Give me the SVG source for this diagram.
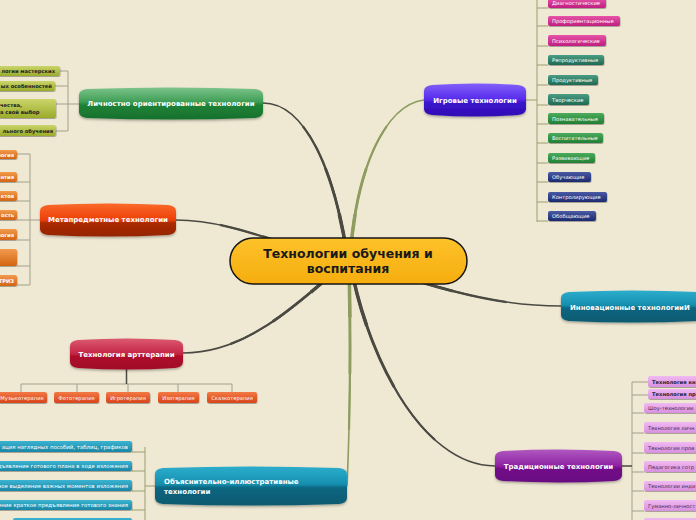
<svg xmlns="http://www.w3.org/2000/svg" width="696" height="520" viewBox="0 0 696 520">
<defs>
<style>
.bg{fill:#efe8d3}
.k{stroke:#4a4a42;fill:none;stroke-linecap:butt}
.g{stroke:#8e9c60;fill:none;stroke-linecap:butt}
.w1{stroke-width:1.6}
.w2{stroke-width:2.2;stroke-dasharray:0 25 75 0}
.w3{stroke-width:2.8;stroke-dasharray:0 50 50 0}
.w4{stroke-width:3.5;stroke-dasharray:0 75 25 0}
.br{stroke:#a3a08c;stroke-width:1;fill:none}
.brG{stroke:#98a070;stroke-width:1;fill:none}
.nt{font-family:"DejaVu Sans",Verdana,sans-serif;font-weight:bold;font-size:7px;fill:#fff}
.ct{font-family:"DejaVu Sans",Verdana,sans-serif;font-size:5.2px;fill:#fff}
.ctl{font-family:"DejaVu Sans",Verdana,sans-serif;font-size:5.4px;fill:#fff}
.cb{font-family:"DejaVu Sans",Verdana,sans-serif;font-size:5.2px;font-weight:bold}
.ctd{font-family:"DejaVu Sans",Verdana,sans-serif;font-size:5.2px;fill:#4a2a50}
</style>
<filter id="sh" x="-10%" y="-20%" width="120%" height="160%"><feDropShadow dx="0" dy="1.5" stdDeviation="1" flood-color="#000" flood-opacity="0.3"/></filter>
<filter id="shs" x="-10%" y="-30%" width="120%" height="180%"><feDropShadow dx="0.5" dy="1" stdDeviation="0.5" flood-color="#000" flood-opacity="0.3"/></filter>
<linearGradient id="gCenter" x1="0" y1="0" x2="0" y2="1"><stop offset="0" stop-color="#fdc22a"/><stop offset="1" stop-color="#f6ad0e"/></linearGradient>
<linearGradient id="gGreen" x1="0" y1="0" x2="0" y2="1"><stop offset="0" stop-color="#7cc48a"/><stop offset="0.45" stop-color="#3f9e55"/><stop offset="0.55" stop-color="#1f8236"/><stop offset="1" stop-color="#17702c"/></linearGradient>
<linearGradient id="gOrange" x1="0" y1="0" x2="0" y2="1"><stop offset="0" stop-color="#fb6a2a"/><stop offset="0.5" stop-color="#ec3f08"/><stop offset="0.6" stop-color="#a82a02"/><stop offset="1" stop-color="#962400"/></linearGradient>
<linearGradient id="gCrimson" x1="0" y1="0" x2="0" y2="1"><stop offset="0" stop-color="#dc5a70"/><stop offset="0.5" stop-color="#c42444"/><stop offset="0.58" stop-color="#ae0e2c"/><stop offset="1" stop-color="#a00a26"/></linearGradient>
<linearGradient id="gTeal" x1="0" y1="0" x2="0" y2="1"><stop offset="0" stop-color="#2cadcc"/><stop offset="0.45" stop-color="#1690b0"/><stop offset="0.55" stop-color="#0d6680"/><stop offset="1" stop-color="#0a5a70"/></linearGradient>
<linearGradient id="gBlue" x1="0" y1="0" x2="0" y2="1"><stop offset="0" stop-color="#8260fa"/><stop offset="0.5" stop-color="#5528ea"/><stop offset="0.58" stop-color="#3a14cc"/><stop offset="1" stop-color="#300eb4"/></linearGradient>
<linearGradient id="gPurple" x1="0" y1="0" x2="0" y2="1"><stop offset="0" stop-color="#b058c0"/><stop offset="0.5" stop-color="#8e22a4"/><stop offset="0.58" stop-color="#720c88"/><stop offset="1" stop-color="#680880"/></linearGradient>
<linearGradient id="cOlive" x1="0" y1="0" x2="0" y2="1"><stop offset="0" stop-color="#cbd56a"/><stop offset="1" stop-color="#9aab2a"/></linearGradient>
<linearGradient id="cOrange" x1="0" y1="0" x2="0" y2="1"><stop offset="0" stop-color="#f29a4c"/><stop offset="1" stop-color="#d26514"/></linearGradient>
<linearGradient id="cRed" x1="0" y1="0" x2="0" y2="1"><stop offset="0" stop-color="#f27a44"/><stop offset="1" stop-color="#d8441a"/></linearGradient>
<linearGradient id="cTeal" x1="0" y1="0" x2="0" y2="1"><stop offset="0" stop-color="#3ab4d2"/><stop offset="1" stop-color="#1a86a6"/></linearGradient>
<linearGradient id="cPink" x1="0" y1="0" x2="0" y2="1"><stop offset="0" stop-color="#e654a8"/><stop offset="1" stop-color="#c01e80"/></linearGradient>
<linearGradient id="cTG" x1="0" y1="0" x2="0" y2="1"><stop offset="0" stop-color="#4a9c84"/><stop offset="1" stop-color="#1e6a52"/></linearGradient>
<linearGradient id="cGr" x1="0" y1="0" x2="0" y2="1"><stop offset="0" stop-color="#4cac5c"/><stop offset="1" stop-color="#1f7f34"/></linearGradient>
<linearGradient id="cNavy" x1="0" y1="0" x2="0" y2="1"><stop offset="0" stop-color="#4a5aa4"/><stop offset="1" stop-color="#1c2a70"/></linearGradient>
<linearGradient id="cLilac" x1="0" y1="0" x2="0" y2="1"><stop offset="0" stop-color="#f0baf2"/><stop offset="1" stop-color="#d890de"/></linearGradient>
<path id="cL" pathLength="100" d="M263,103 C305,103 335,170 348,261"/>
<path id="cI" pathLength="100" d="M424,100 C385,105 355,170 350,261"/>
<path id="cM" pathLength="100" d="M176,220 C235,220 290,250 348,261"/>
<path id="cA" pathLength="100" d="M183,353 C250,353 300,300 348,261"/>
<path id="cO" pathLength="100" d="M347,486 C350,420 351,350 349,261"/>
<path id="cT" pathLength="100" d="M495,466 C420,466 365,350 350,261"/>
<path id="cN" pathLength="100" d="M561,306 C480,306 420,280 348,261"/>
</defs>
<rect class="bg" x="0" y="0" width="696" height="520"/>

<g id="connectors">
<use href="#cL" class="k w1"/><use href="#cL" class="k w2"/><use href="#cL" class="k w3"/><use href="#cL" class="k w4"/>
<use href="#cI" class="g w1"/><use href="#cI" class="g w2"/><use href="#cI" class="g w3"/><use href="#cI" class="g w4"/>
<use href="#cM" class="k w1"/><use href="#cM" class="k w2"/><use href="#cM" class="k w3"/><use href="#cM" class="k w4"/>
<use href="#cA" class="k w1"/><use href="#cA" class="k w2"/><use href="#cA" class="k w3"/><use href="#cA" class="k w4"/>
<use href="#cO" class="g w1"/><use href="#cO" class="g w2"/><use href="#cO" class="g w3"/><use href="#cO" class="g w4"/>
<use href="#cT" class="k w1"/><use href="#cT" class="k w2"/><use href="#cT" class="k w3"/><use href="#cT" class="k w4"/>
<use href="#cN" class="k w1"/><use href="#cN" class="k w2"/><use href="#cN" class="k w3"/><use href="#cN" class="k w4"/>
<path class="br" d="M79,104 H68 M68,71 V131 M60,71 H68 M55,86 H68 M56,104 H68 M56,131 H68"/>
<path class="br" d="M40,220 H30 M30,154 V285 M17,154 H30 M17,182 H30 M17,201 H30 M17,220 H30 M17,240 H30 M17,266 H30 M17,285 H30"/>
<path class="br" d="M21,384 H232 M21,384 V392 M77,384 V392 M128,384 V392 M178,384 V392 M232,384 V392"/>
<path d="M126.5,368 V384" stroke="#4a4a42" stroke-width="1.5"/>
<path class="brG" d="M155,486 H145 M145,447 V520 M132,452 H145 M132,471 H145 M132,491 H145 M132,510 H145"/>
<path class="brG" d="M526,100 H537 M537,0 V222 M537,8 H548 M537,26 H548 M537,46 H548 M537,65 H548 M537,85 H548 M537,105 H548 M537,124 H548 M537,143 H548 M537,163 H548 M537,182 H548 M537,202 H548 M537,221 H548"/>
<path class="br" d="M632,382 V520 M632,382 H648 M632,395 H648 M632,413 H644 M632,433 H644 M632,453 H644 M632,472 H644 M632,491 H644 M632,511 H644"/>
<path d="M622,466 H632" stroke="#4a4a42" stroke-width="1.5"/>
</g>

<g id="center">
<rect x="230" y="238" width="237" height="46" rx="23" fill="url(#gCenter)" stroke="#151515" stroke-width="1.5"/>
<text x="348" y="258" text-anchor="middle" font-family="'DejaVu Sans',Verdana,sans-serif" font-weight="bold" font-size="12.5" fill="#1a1a1a">Технологии обучения и</text>
<text x="348" y="273" text-anchor="middle" font-family="'DejaVu Sans',Verdana,sans-serif" font-weight="bold" font-size="12.5" fill="#1a1a1a">воспитания</text>
</g>

<g id="lichnostno">
<path filter="url(#sh)" fill="url(#gGreen)" d="M79,95 Q79,90 87,89 Q171,86 255,89 Q263,90 263,95 L263,112 Q263,117 255,118 Q171,121 87,118 Q79,117 79,112 Z"/>
<text class="nt" x="171" y="106" text-anchor="middle">Личностно ориентированные технологии</text>
</g>
<g id="lichnostno-children">
<rect filter="url(#shs)" x="-5" y="66" width="65" height="10" rx="2" fill="url(#cOlive)"/>
<text class="cb" x="55" y="73" text-anchor="end" fill="#222">логии мастерских</text>
<rect filter="url(#shs)" x="-5" y="81" width="60" height="10" rx="2" fill="url(#cOlive)"/>
<text class="cb" x="52" y="88" text-anchor="end" fill="#222">ых особенностей</text>
<rect filter="url(#shs)" x="-5" y="99" width="61" height="19" rx="2" fill="url(#cOlive)"/>
<text class="cb" x="0" y="107" fill="#222">чества,</text>
<text class="cb" x="0" y="114" fill="#222">а свой выбор</text>
<rect filter="url(#shs)" x="-5" y="125" width="61" height="11" rx="2" fill="url(#cOlive)"/>
<text class="cb" x="53" y="132.5" text-anchor="end" fill="#222">льного обучения</text>
</g>

<g id="metapredmet">
<path filter="url(#sh)" fill="url(#gOrange)" d="M40,211 Q40,206 48,205 Q108,202 168,205 Q176,206 176,211 L176,229 Q176,234 168,235 Q108,238 48,235 Q40,234 40,229 Z"/>
<text class="nt" x="108" y="222" text-anchor="middle">Метапредметные технологии</text>
</g>
<g id="metapredmet-children">
<rect filter="url(#shs)" x="-5" y="150" width="22" height="9" rx="2" fill="url(#cOrange)"/>
<text class="cb" x="14" y="156.5" text-anchor="end" fill="#fff">логия</text>
<rect filter="url(#shs)" x="-5" y="172" width="22" height="10" rx="2" fill="url(#cOrange)"/>
<text class="cb" x="14" y="179" text-anchor="end" fill="#fff">нтия</text>
<rect filter="url(#shs)" x="-5" y="191" width="22" height="10" rx="2" fill="url(#cOrange)"/>
<text class="cb" x="14" y="198" text-anchor="end" fill="#fff">ктов</text>
<rect filter="url(#shs)" x="-5" y="210" width="22" height="10" rx="2" fill="url(#cOrange)"/>
<text class="cb" x="14" y="217" text-anchor="end" fill="#fff">ость</text>
<rect filter="url(#shs)" x="-5" y="229" width="22" height="11" rx="2" fill="url(#cOrange)"/>
<text class="cb" x="14" y="236.5" text-anchor="end" fill="#fff">логия</text>
<rect filter="url(#shs)" x="-5" y="249" width="22" height="17" rx="2" fill="url(#cOrange)"/>
<rect filter="url(#shs)" x="-5" y="275" width="22" height="11" rx="2" fill="url(#cOrange)"/>
<text class="cb" x="14" y="282.5" text-anchor="end" fill="#fff">ТРИЗ</text>
</g>

<g id="artterapia">
<path filter="url(#sh)" fill="url(#gCrimson)" d="M70,346 Q70,341 78,340 Q126.5,337 175,340 Q183,341 183,346 L183,362 Q183,367 175,368 Q126.5,371 78,368 Q70,367 70,362 Z"/>
<text class="nt" x="126.5" y="356.5" text-anchor="middle">Технология арттерапии</text>
</g>
<g id="artterapia-children">
<rect filter="url(#shs)" x="-2" y="392" width="49" height="11" rx="2" fill="url(#cRed)"/>
<text class="ct" x="22" y="399.5" text-anchor="middle">Музыкотерапия</text>
<rect filter="url(#shs)" x="54" y="392" width="45" height="11" rx="2" fill="url(#cRed)"/>
<text class="ct" x="76.5" y="399.5" text-anchor="middle">Фототерапия</text>
<rect filter="url(#shs)" x="106" y="392" width="44" height="11" rx="2" fill="url(#cRed)"/>
<text class="ct" x="128" y="399.5" text-anchor="middle">Игротерапия</text>
<rect filter="url(#shs)" x="158" y="392" width="41" height="11" rx="2" fill="url(#cRed)"/>
<text class="ct" x="178.5" y="399.5" text-anchor="middle">Изотерапия</text>
<rect filter="url(#shs)" x="207" y="392" width="50" height="11" rx="2" fill="url(#cRed)"/>
<text class="ct" x="232" y="399.5" text-anchor="middle">Сказкотерапия</text>
</g>

<g id="obyasnitelno">
<path filter="url(#sh)" fill="url(#gTeal)" d="M155,474 Q155,469 163,468 Q251,465 339,468 Q347,469 347,474 L347,498 Q347,503 339,504 Q251,507 163,504 Q155,503 155,498 Z"/>
<text class="nt" x="164" y="484">Объяснительно-иллюстративные</text>
<text class="nt" x="164" y="494">технологии</text>
</g>
<g id="obyasnitelno-children">
<rect filter="url(#shs)" x="-5" y="441" width="137" height="11" rx="2" fill="url(#cTeal)"/>
<text class="ctl" x="128" y="448.5" text-anchor="end">ация наглядных пособий, таблиц, графиков</text>
<rect filter="url(#shs)" x="-5" y="461" width="137" height="10" rx="2" fill="url(#cTeal)"/>
<text class="ctl" x="128" y="468" text-anchor="end">дъявление готового плана в ходе изложения</text>
<rect filter="url(#shs)" x="-5" y="480" width="137" height="11" rx="2" fill="url(#cTeal)"/>
<text class="ctl" x="128" y="487.5" text-anchor="end">ное выделение важных моментов изложения</text>
<rect filter="url(#shs)" x="-5" y="500" width="137" height="10" rx="2" fill="url(#cTeal)"/>
<text class="ctl" x="128" y="507" text-anchor="end">ление краткое предъявление готового знания</text>
<rect filter="url(#shs)" x="13" y="518" width="119" height="10" rx="2" fill="url(#cTeal)"/>
</g>

<g id="igrovye">
<path filter="url(#sh)" fill="url(#gBlue)" d="M424,91 Q424,86 432,85 Q475,82 518,85 Q526,86 526,91 L526,109 Q526,114 518,115 Q475,118 432,115 Q424,114 424,109 Z"/>
<text class="nt" x="475" y="102.5" text-anchor="middle">Игровые технологии</text>
</g>
<g id="igrovye-children">
<rect filter="url(#shs)" x="548" y="-2" width="58" height="10" rx="2" fill="url(#cPink)"/>
<text class="ct" x="552" y="5">Диагностические</text>
<rect filter="url(#shs)" x="548" y="16" width="72" height="10" rx="2" fill="url(#cPink)"/>
<text class="ct" x="552" y="23">Профориентационные</text>
<rect filter="url(#shs)" x="548" y="35" width="58" height="11" rx="2" fill="url(#cPink)"/>
<text class="ct" x="552" y="42.5">Психологические</text>
<rect filter="url(#shs)" x="548" y="55" width="56" height="10" rx="2" fill="url(#cTG)"/>
<text class="ct" x="552" y="62">Репродуктивные</text>
<rect filter="url(#shs)" x="548" y="75" width="50" height="10" rx="2" fill="url(#cTG)"/>
<text class="ct" x="552" y="82">Продуктивные</text>
<rect filter="url(#shs)" x="548" y="94" width="41" height="11" rx="2" fill="url(#cTG)"/>
<text class="ct" x="552" y="101.5">Творческие</text>
<rect filter="url(#shs)" x="548" y="113" width="56" height="11" rx="2" fill="url(#cGr)"/>
<text class="ct" x="552" y="120.5">Познавательные</text>
<rect filter="url(#shs)" x="548" y="133" width="55" height="10" rx="2" fill="url(#cGr)"/>
<text class="ct" x="552" y="140">Воспитательные</text>
<rect filter="url(#shs)" x="548" y="153" width="47" height="10" rx="2" fill="url(#cGr)"/>
<text class="ct" x="552" y="160">Развивающие</text>
<rect filter="url(#shs)" x="548" y="172" width="43" height="10" rx="2" fill="url(#cNavy)"/>
<text class="ct" x="552" y="179">Обучающие</text>
<rect filter="url(#shs)" x="548" y="192" width="59" height="10" rx="2" fill="url(#cNavy)"/>
<text class="ct" x="552" y="199">Контролирующие</text>
<rect filter="url(#shs)" x="548" y="211" width="48" height="10" rx="2" fill="url(#cNavy)"/>
<text class="ct" x="552" y="218">Обобщающие</text>
</g>

<g id="innovacionnye">
<path filter="url(#sh)" fill="url(#gTeal)" d="M561,298 Q561,293 569,292 Q633,289 697,292 Q705,293 705,298 L705,315 Q705,320 697,321 Q633,324 569,321 Q561,320 561,315 Z"/>
<text class="nt" x="570" y="309.5">Инновационные технологииИ</text>
</g>

<g id="tradicionnye">
<path filter="url(#sh)" fill="url(#gPurple)" d="M495,457 Q495,452 503,451 Q558.5,448 614,451 Q622,452 622,457 L622,475 Q622,480 614,481 Q558.5,484 503,481 Q495,480 495,475 Z"/>
<text class="nt" x="558.5" y="468.5" text-anchor="middle">Традиционные технологии</text>
</g>
<g id="tradicionnye-children">
<rect filter="url(#shs)" x="648" y="376" width="60" height="11" rx="2" fill="url(#cLilac)"/>
<text class="cb" x="652" y="383.5" fill="#2a1a2e">Технология кн</text>
<rect filter="url(#shs)" x="648" y="389" width="60" height="10" rx="2" fill="url(#cLilac)"/>
<text class="cb" x="652" y="396" fill="#2a1a2e">Технология пр</text>
<rect filter="url(#shs)" x="644" y="403" width="64" height="10" rx="2" fill="url(#cLilac)"/>
<text class="ctd" x="648" y="410">Шоу-технологии</text>
<rect filter="url(#shs)" x="644" y="422" width="64" height="11" rx="2" fill="url(#cLilac)"/>
<text class="ctd" x="648" y="429.5">Технология личн</text>
<rect filter="url(#shs)" x="644" y="442" width="64" height="11" rx="2" fill="url(#cLilac)"/>
<text class="ctd" x="648" y="449.5">Технология пров</text>
<rect filter="url(#shs)" x="644" y="461" width="64" height="11" rx="2" fill="url(#cLilac)"/>
<text class="ctd" x="648" y="468.5">Педагогика сотр</text>
<rect filter="url(#shs)" x="644" y="481" width="64" height="10" rx="2" fill="url(#cLilac)"/>
<text class="ctd" x="648" y="488">Технологии инди</text>
<rect filter="url(#shs)" x="644" y="500" width="64" height="11" rx="2" fill="url(#cLilac)"/>
<text class="ctd" x="648" y="507.5">Гуманно-личност</text>
<rect filter="url(#shs)" x="644" y="518" width="64" height="10" rx="2" fill="url(#cLilac)"/>
</g>
</svg>
